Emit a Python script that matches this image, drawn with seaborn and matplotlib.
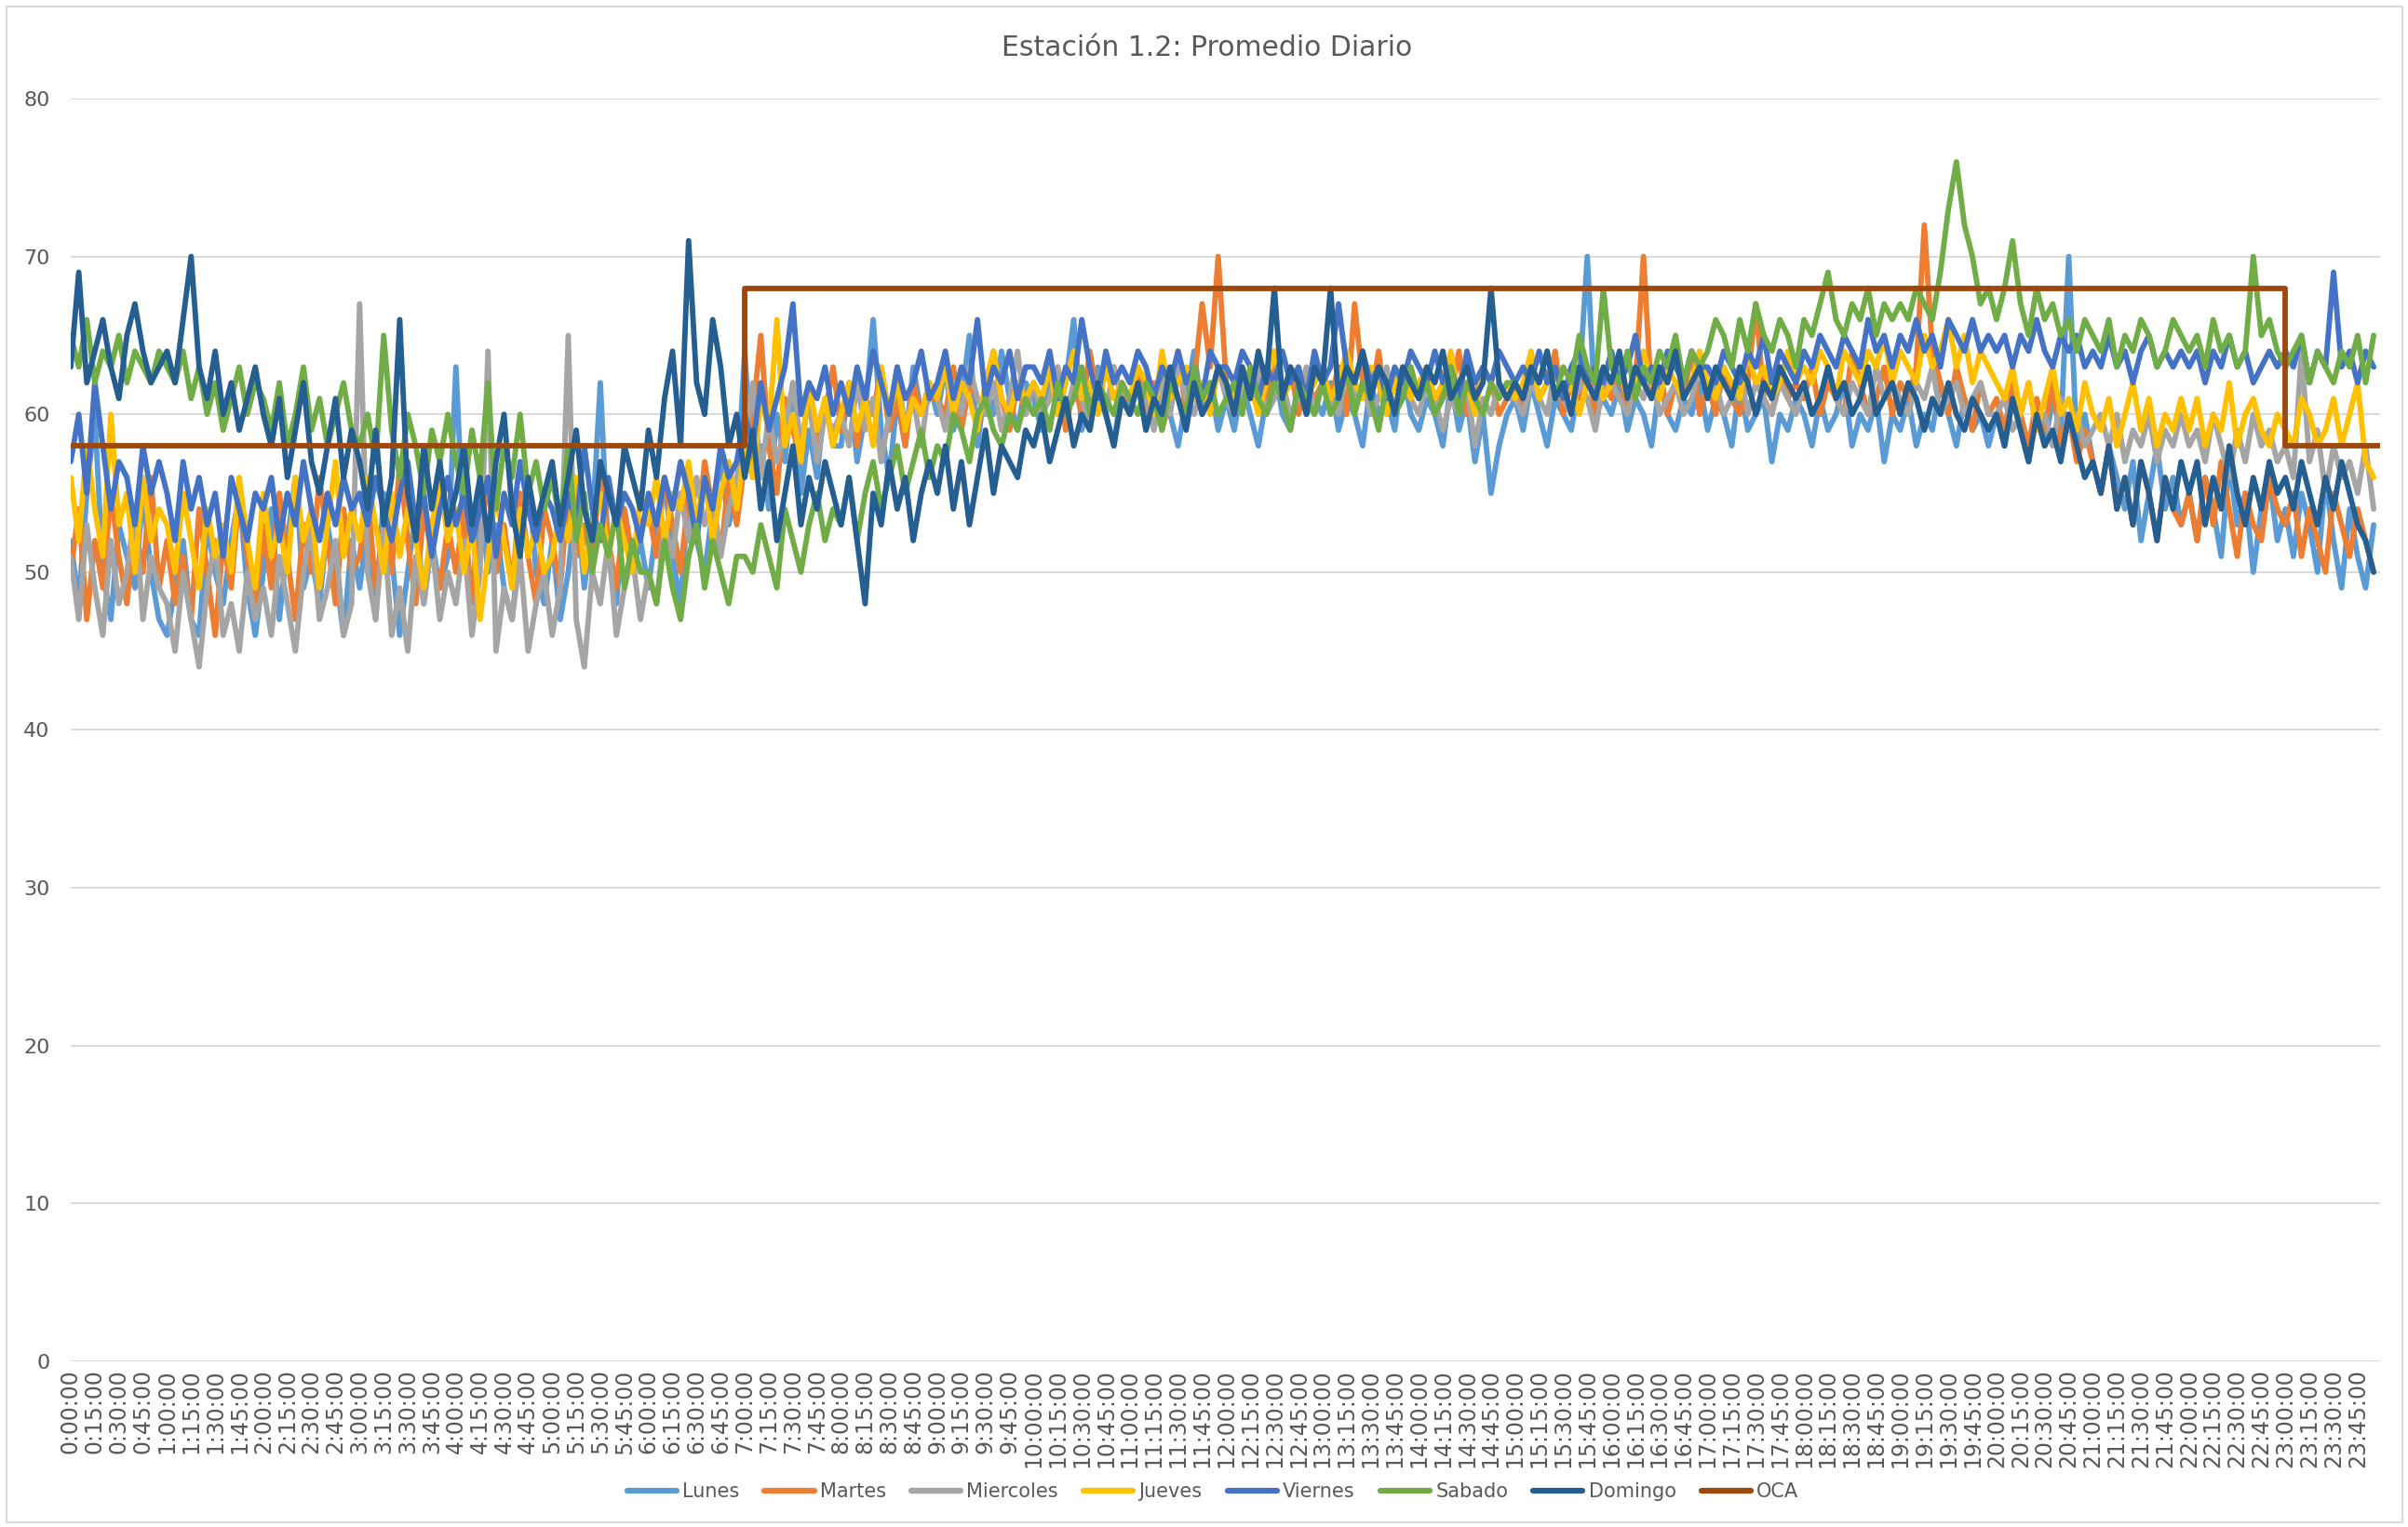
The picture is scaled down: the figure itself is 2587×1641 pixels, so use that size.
import numpy as np
import pandas as pd
import seaborn as sns
import matplotlib
matplotlib.use("Agg")
import matplotlib.pyplot as plt
from matplotlib.patches import Rectangle

# ---------------- data (dB, sampled every 5 minutes, 0:00 -> 23:55) ----------------
lunes = [
    52,48,55,60,50,47,53,51,49,55,50,47, 46,49,52,47,46,53,50,48,52,55,49,46,
    50,54,47,52,56,49,51,48,53,50,46,52, 49,53,47,55,51,46,50,54,48,52,49,51,
    63,52,48,55,50,53,49,47,52,56,50,48, 52,47,50,55,49,53,62,51,48,54,50,52,
    49,53,56,51,48,55,52,50,54,57,53,55, 64,56,58,54,60,57,62,55,59,56,61,58,
    58,62,57,60,66,59,56,61,58,63,60,62, 60,63,59,61,65,58,62,60,64,61,59,62,
    61,59,63,60,62,66,59,61,63,60,58,62, 60,62,59,61,63,60,58,61,64,60,62,59,
    61,59,62,60,58,61,63,60,59,62,60,61, 60,62,59,61,60,58,62,60,61,59,63,60,
    59,61,60,58,62,59,61,57,60,55,58,60, 61,59,62,60,58,61,60,59,62,70,60,61,
    60,62,59,61,60,58,62,60,59,61,60,62, 59,61,60,58,62,59,60,61,57,60,59,61,
    60,58,61,59,60,62,58,60,59,61,57,60, 59,61,58,60,59,62,60,58,61,59,60,58,
    60,58,61,59,57,60,58,61,59,70,58,60, 57,55,58,56,54,57,52,55,58,54,56,53,
    55,52,56,54,51,57,53,55,50,54,56,52, 54,51,55,53,50,56,52,49,54,51,49,53,
]
martes = [
    50,54,47,52,49,55,51,48,53,50,56,49, 52,48,51,47,54,50,46,52,49,55,51,48,
    53,49,55,51,47,53,50,56,52,48,54,50, 51,55,49,53,50,57,52,48,54,51,49,53,
    50,54,48,52,56,50,53,49,55,51,48,54, 52,49,55,51,53,50,57,52,49,54,51,53,
    54,51,56,53,50,55,52,57,54,51,56,53, 57,60,65,58,55,61,59,57,62,58,60,63,
    59,62,58,61,60,63,59,61,58,62,60,61, 61,60,63,59,62,61,60,64,61,59,62,60,
    62,60,61,63,59,62,60,64,61,60,63,61, 61,63,60,62,59,61,64,60,62,67,63,70,
    62,60,63,61,62,60,64,61,63,60,62,61, 62,61,63,60,67,62,61,64,60,62,61,63,
    61,63,60,62,61,64,60,61,63,62,60,61, 62,60,63,61,62,64,60,62,61,63,60,62,
    61,63,60,62,70,61,63,60,62,61,64,60, 62,60,63,61,60,62,67,61,60,63,61,62,
    61,63,60,62,61,60,64,62,60,61,63,60, 62,61,63,72,64,62,60,63,61,59,62,60,
    61,59,62,60,58,61,59,62,58,60,57,59, 57,55,58,54,56,53,57,55,52,56,54,53,
    55,52,56,53,57,54,51,55,53,52,56,54, 53,55,51,54,52,50,55,53,51,54,52,50,
]
miercoles = [
    51,47,53,49,46,52,48,50,54,47,51,49, 48,45,50,47,44,49,52,46,48,45,50,47,
    49,46,51,48,45,50,53,47,49,52,46,48, 67,50,47,53,46,49,45,51,48,52,47,50,
    48,52,46,50,64,45,49,47,51,45,48,50, 46,49,65,47,44,50,48,52,46,49,51,47,
    50,48,53,51,55,52,56,53,55,51,54,56, 58,62,56,60,57,59,62,58,61,57,60,59,
    60,58,62,59,61,57,60,63,59,61,58,62, 61,59,62,60,63,61,60,62,59,61,64,60,
    62,60,61,63,60,62,61,59,62,60,63,61, 60,62,61,59,62,60,63,61,60,62,61,63,
    61,60,62,61,63,60,61,62,60,61,63,60, 62,61,60,63,61,62,60,61,63,60,62,61,
    60,62,61,59,61,60,62,58,61,60,62,61, 61,60,62,61,60,63,61,60,62,61,59,62,
    62,61,60,62,61,63,60,61,62,60,61,63, 61,62,60,61,63,60,62,61,60,62,61,60,
    62,60,61,63,61,60,62,61,60,63,61,62, 61,60,62,61,63,60,61,62,60,61,62,60,
    60,61,59,60,62,59,60,58,61,59,60,58, 59,60,58,60,57,59,58,60,57,59,58,60,
    58,59,57,60,58,56,59,57,60,58,59,57, 58,56,64,57,59,55,58,56,57,55,58,54,
]
jueves = [
    56,52,58,54,51,60,53,55,50,56,52,54, 53,50,55,52,49,54,51,53,50,56,52,49,
    55,51,53,50,56,52,54,49,53,57,51,54, 52,56,53,50,55,51,54,52,49,53,56,52,
    54,50,53,47,51,55,52,49,54,51,53,50, 51,54,52,56,50,53,55,51,54,52,50,55,
    53,56,52,55,54,57,53,56,52,55,57,54, 58,56,61,59,66,58,60,57,62,59,61,58,
    60,62,59,61,58,63,60,62,59,61,60,62, 61,63,60,62,61,59,62,64,61,60,62,61,
    62,61,63,60,62,64,61,62,60,63,61,62, 61,63,62,60,64,61,62,63,61,62,60,63,
    62,61,63,62,60,62,64,61,62,63,61,62, 63,61,62,64,62,61,63,62,60,62,63,61,
    62,63,61,62,64,61,62,60,63,62,61,62, 61,62,64,61,62,63,61,62,60,62,63,61,
    62,63,61,62,64,62,61,63,62,61,62,64, 62,61,63,62,61,64,62,63,61,62,64,62,
    63,62,64,63,61,64,63,62,64,63,65,62, 64,63,62,65,63,64,66,63,65,62,64,63,
    62,61,63,60,62,59,61,63,60,61,59,62, 60,59,61,58,60,62,59,61,58,60,59,61,
    59,61,58,60,59,62,58,60,61,59,58,60, 59,58,61,60,58,59,61,58,60,62,57,56,
]
viernes = [
    57,60,55,62,58,54,57,56,53,58,55,57, 55,52,57,54,56,53,55,51,56,54,52,55,
    54,56,52,55,53,57,54,52,55,53,56,54, 55,53,56,54,52,55,57,53,55,51,54,56,
    53,55,52,54,56,51,55,53,57,54,52,55, 54,52,55,53,58,54,52,56,53,55,54,52,
    55,53,56,54,57,55,52,56,54,58,56,57, 60,58,62,59,61,63,67,60,62,61,63,60,
    62,60,63,61,64,62,60,63,61,62,64,61, 62,64,61,63,62,66,61,63,62,64,61,63,
    63,62,64,61,63,62,66,63,61,64,62,63, 62,64,63,61,63,62,64,62,63,61,64,63,
    63,62,64,63,61,63,62,64,62,63,61,64, 62,63,67,63,62,64,62,63,61,63,62,64,
    63,62,64,62,63,61,64,62,63,62,64,63, 62,63,62,64,62,63,61,63,64,62,63,62,
    64,62,63,65,62,63,62,64,63,62,64,63, 63,62,64,63,62,64,63,65,62,64,63,62,
    64,63,65,64,63,65,64,63,66,64,65,63, 65,64,66,64,65,63,66,65,64,66,64,65,
    64,65,63,65,64,66,64,63,65,64,65,63, 64,63,65,63,64,62,64,65,63,64,63,64,
    63,64,62,64,63,65,63,64,62,63,64,63, 64,63,65,62,64,63,69,63,64,62,64,63,
]
sabado = [
    65,63,66,62,64,63,65,62,64,63,62,64, 63,62,64,61,63,60,62,59,61,63,60,62,
    61,59,62,58,60,63,59,61,58,60,62,59, 58,60,57,65,59,56,60,58,55,59,57,60,
    57,55,59,56,62,54,58,56,60,55,57,54, 56,53,58,52,55,50,53,51,54,49,52,50,
    50,48,52,49,47,51,53,49,52,50,48,51, 51,50,53,51,49,54,52,50,53,55,52,54,
    53,56,52,55,57,54,56,58,55,57,59,56, 58,57,60,59,57,60,61,59,58,60,59,61,
    60,61,59,62,60,61,63,60,62,61,60,62, 61,60,62,61,59,62,61,60,63,61,62,60,
    61,62,60,63,61,60,62,61,59,62,61,60, 62,60,61,63,60,62,61,59,62,60,61,63,
    61,62,60,61,63,60,62,61,60,62,61,62, 62,61,63,62,64,61,63,62,65,63,62,68,
    63,62,64,61,63,62,64,63,65,62,64,63, 64,66,65,63,66,64,67,65,64,66,65,63,
    66,65,67,69,66,65,67,66,68,65,67,66, 67,66,68,67,66,69,73,76,72,70,67,68,
    66,68,71,67,65,68,66,67,65,66,64,66, 65,64,66,63,65,64,66,65,63,64,66,65,
    64,65,63,66,64,65,63,64,70,65,66,64, 63,64,65,62,64,63,62,64,63,65,62,65,
]
domingo = [
    63,69,62,64,66,63,61,65,67,64,62,63, 64,62,66,70,63,61,64,60,62,59,61,63,
    60,58,61,56,59,62,57,55,58,61,56,59, 57,54,59,53,56,66,55,52,58,54,57,53,
    55,58,53,56,52,57,60,54,51,56,53,55, 57,53,56,59,54,52,57,55,53,58,56,54,
    59,56,61,64,58,71,62,60,66,63,58,60, 56,59,54,57,52,55,58,53,56,54,57,55,
    53,56,52,48,55,53,57,54,56,52,55,57, 55,58,54,57,53,56,59,55,58,57,56,59,
    58,60,57,59,61,58,60,59,62,60,58,61, 60,62,59,61,60,63,61,59,62,60,61,63,
    62,60,63,61,64,62,68,61,63,62,60,63, 62,68,61,63,62,64,61,63,62,60,63,62,
    61,63,62,64,61,62,63,61,62,68,62,61, 62,61,63,62,64,61,62,60,63,62,61,63,
    62,64,61,63,62,61,63,62,64,61,62,63, 61,63,62,61,63,62,60,62,61,63,62,61,
    62,60,61,63,61,62,60,61,63,60,61,62, 60,62,61,59,61,60,62,60,59,61,60,59,
    60,58,61,59,57,60,58,59,57,60,58,56, 57,55,58,54,56,53,57,55,52,56,54,57,
    55,57,53,56,54,58,55,53,56,54,57,55, 56,54,57,55,53,56,54,57,55,53,52,50,
]
# OCA limit (step function): value holds from each breakpoint to the next
oca_minutes = [0, 420, 1380, 1439]
oca_values = [58, 68, 58, 58]

series_names = ["Lunes", "Martes", "Miercoles", "Jueves", "Viernes", "Sabado", "Domingo"]
series_values = [lunes, martes, miercoles, jueves, viernes, sabado, domingo]
series_colors = ["#5B9BD5", "#ED7D31", "#A5A5A5", "#FFC000", "#4472C4", "#70AD47", "#255E91"]
oca_color = "#9E480E"

title_text = "Estación 1.2: Promedio Diario"
y_ticks = [0, 10, 20, 30, 40, 50, 60, 70, 80]
x_tick_minutes = list(range(0, 1440, 15))
x_tick_labels = [f"{m // 60}:{m % 60:02d}:00" for m in x_tick_minutes]

sample_minutes = np.arange(0, 1440, 5)

# ---------------- figure ----------------
sns.set_theme(style="white")
plt.rcParams["font.family"] = ["DejaVu Sans"]
text_color = "#595959"

W, H = 2587, 1641
fig = plt.figure(figsize=(W / 100, H / 100), dpi=100)
ax = fig.add_axes([76 / W, 1 - 1463 / H, (2557 - 76) / W, (1463 - 106) / H])

lw = 4.2
for name, vals, col in zip(series_names, series_values, series_colors):
    df = pd.DataFrame({"minute": sample_minutes, "value": vals})
    sns.lineplot(data=df, x="minute", y="value", color=col, linewidth=lw,
                 label=name, ax=ax, sort=False, estimator=None)

oca_df = pd.DataFrame({"minute": oca_minutes, "value": oca_values})
sns.lineplot(data=oca_df, x="minute", y="value", color=oca_color, linewidth=lw,
             label="OCA", ax=ax, sort=False, estimator=None, drawstyle="steps-post")

ax.set_xlim(0, 1439)
ax.set_ylim(0, 80)
ax.set_yticks(y_ticks)
ax.set_xticks(x_tick_minutes)
ax.set_xticklabels(x_tick_labels, rotation=90, fontsize=17, color=text_color)
ax.tick_params(axis="y", labelsize=16, labelcolor=text_color, pad=16, length=0)
ax.tick_params(axis="x", pad=6, length=0)
ax.set_xlabel("")
ax.set_ylabel("")
ax.set_axisbelow(True)
ax.yaxis.grid(True, color="#D9D9D9", linewidth=1.4)
ax.xaxis.grid(False)
for s in ax.spines.values():
    s.set_visible(False)

ax.get_legend().remove()
handles, labels = ax.get_legend_handles_labels()
leg = fig.legend(handles, labels, loc="center", bbox_to_anchor=(1303 / W, 1 - 1603 / H),
                 ncol=8, frameon=False, fontsize=15, handlelength=2.55,
                 handletextpad=0.3, columnspacing=1.3, borderaxespad=0)
for t in leg.get_texts():
    t.set_color(text_color)
for h in leg.get_lines():
    h.set_linewidth(4.5)

fig.text(1297 / W, 1 - 51 / H, title_text, ha="center", va="center",
         fontsize=21.5, color=text_color)

fig.patches.append(Rectangle((7 / W, 1 - 1636 / H), (2581 - 7) / W, (1636 - 7) / H,
                             transform=fig.transFigure, fill=False,
                             edgecolor="#D9D9D9", linewidth=1.5))

fig.savefig("out.png", dpi=100, facecolor="white")
